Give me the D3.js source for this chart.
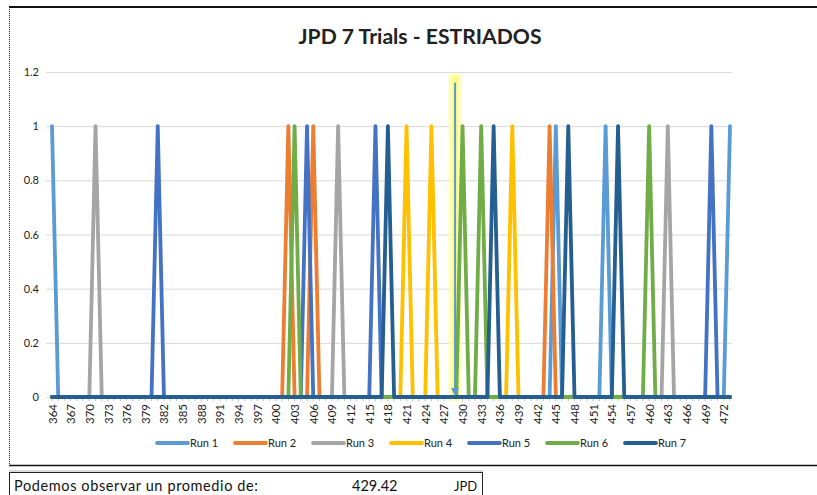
<!DOCTYPE html>
<html><head><meta charset="utf-8">
<script src="https://cdn.jsdelivr.net/npm/d3@7"></script>
<style>
html,body{margin:0;padding:0;background:#fff;}
svg{display:block;font-family:Lato,"Open Sans",sans-serif;}
</style></head>
<body><svg id="c" width="817" height="495"></svg>
<script>
// ---- data ----
const firstCategory = 364, lastCategory = 473;
const categories = d3.range(firstCategory, lastCategory + 1);
const seriesNames = ["Run 1","Run 2","Run 3","Run 4","Run 5","Run 6","Run 7"];
const seriesColors = ["#5B9BD5","#ED7D31","#A5A5A5","#FFC000","#4472C4","#70AD47","#255E91"];
const run1Peaks = [364, 445, 453, 473];
const run2Peaks = [402, 406, 444];
const run3Peaks = [371, 410, 463];
const run4Peaks = [421, 425, 438];
const run5Peaks = [381, 405, 416, 470];
const run6Peaks = [403, 430, 433, 460];
const run7Peaks = [418, 435, 447, 455];
const yTicks = [0, 0.2, 0.4, 0.6, 0.8, 1, 1.2];
const xLabelStep = 3;
const arrowAt = 428.8;      // marked position
const arrowTop = 1.16;
const titleText = "JPD 7 Trials - ESTRIADOS";
const noteLabel = "Podemos observar un promedio de:";
const noteValue = "429.42";
const noteUnit = "JPD";

const peaks = [run1Peaks, run2Peaks, run3Peaks, run4Peaks, run5Peaks, run6Peaks, run7Peaks];
const series = peaks.map((p, i) => ({
  name: seriesNames[i], color: seriesColors[i],
  values: categories.map(c => ({x: c, y: p.includes(c) ? 1 : 0}))
}));

// ---- layout ----
const svg = d3.select("#c");
const x = d3.scaleLinear().domain([firstCategory, lastCategory]).range([52, 730]);
const y = d3.scaleLinear().domain([0, 1.2]).range([397, 72]);

// frame
svg.append("line").attr("x1",9).attr("x2",817).attr("y1",7).attr("y2",7).attr("stroke","#111").attr("stroke-width",2);
svg.append("line").attr("x1",9.5).attr("x2",9.5).attr("y1",7).attr("y2",466).attr("stroke","#222").attr("stroke-width",1).attr("stroke-dasharray","1,1");
svg.append("line").attr("x1",9).attr("x2",817).attr("y1",465.5).attr("y2",465.5).attr("stroke","#111").attr("stroke-width",1.5);

// title
svg.append("text").attr("x",420).attr("y",44).attr("text-anchor","middle")
  .attr("font-size",21).attr("font-weight","bold").attr("fill","#222")
  .attr("textLength",243).attr("lengthAdjust","spacingAndGlyphs").text(titleText);

// gridlines
svg.append("g").selectAll("line").data(yTicks).join("line")
  .attr("x1",46).attr("x2",732).attr("y1",d=>y(d)+0.5).attr("y2",d=>y(d)+0.5)
  .attr("stroke","#D9D9D9").attr("stroke-width",1);

// y labels
svg.append("g").selectAll("text").data(yTicks).join("text")
  .attr("x",39).attr("y",d=>y(d)+4).attr("text-anchor","end")
  .attr("font-size",11).attr("fill","#222").text(d=>d3.format("")(+d.toFixed(1)));

// minor category ticks
svg.append("g").selectAll("line").data(categories).join("line")
  .attr("x1",d=>x(d)).attr("x2",d=>x(d)).attr("y1",398).attr("y2",401)
  .attr("stroke","#BFBFBF").attr("stroke-width",1);

// x axis labels
const xAxis = d3.axisBottom(x)
  .tickValues(categories.filter((c,i)=>i % xLabelStep === 0))
  .tickFormat(d3.format("d")).tickSize(0);
const gx = svg.append("g").attr("transform","translate(0,401)").call(xAxis);
gx.select(".domain").remove();
gx.selectAll("text").attr("transform","rotate(-90)").attr("text-anchor","end")
  .attr("x",-3).attr("y",0).attr("dy","0.35em")
  .attr("font-size",11.5).attr("font-family","Lato,sans-serif").attr("fill","#1a1a1a");

// highlight + arrow annotation
svg.append("line").attr("x1",x(arrowAt)).attr("x2",x(arrowAt)).attr("y1",y(1.2)+2).attr("y2",y(0)+4)
  .attr("stroke","#FFFF99").attr("stroke-width",13).attr("opacity",0.7);
svg.append("line").attr("x1",x(arrowAt)).attr("x2",x(arrowAt)).attr("y1",y(1.2)+4).attr("y2",y(0)+2)
  .attr("stroke","#FFF36B").attr("stroke-width",6).attr("opacity",0.55);

// series lines
const line = d3.line().x(d=>x(d.x)).y(d=>y(d.y));
svg.append("g").selectAll("path").data(series).join("path")
  .attr("d",d=>line(d.values)).attr("fill","none").attr("stroke",d=>d.color)
  .attr("stroke-width",3.8).attr("stroke-linejoin","round").attr("stroke-linecap","round");

// arrow
const ax = x(arrowAt);
svg.append("line").attr("x1",ax).attr("x2",ax).attr("y1",y(arrowTop)).attr("y2",y(0)-6)
  .attr("stroke","#5B9BD5").attr("stroke-width",2);
svg.append("path").attr("d",`M${ax-4},${y(0)-9}L${ax+4},${y(0)-9}L${ax},${y(0)-1}Z`).attr("fill","#5B9BD5");

// legend
const lg = svg.append("g").selectAll("g").data(series).join("g")
  .attr("transform",(d,i)=>`translate(${157+i*78},443)`);
lg.append("line").attr("x1",0).attr("x2",31).attr("stroke",d=>d.color).attr("stroke-width",3.8).attr("stroke-linecap","round");
lg.append("text").attr("x",33).attr("y",4).attr("font-size",11).attr("fill","#222").text(d=>d.name);

// note box
svg.append("rect").attr("x",9.5).attr("y",472.5).attr("width",473).attr("height",30)
  .attr("fill","none").attr("stroke","#222").attr("stroke-width",1);
svg.append("line").attr("x1",9).attr("x2",483).attr("y1",471).attr("y2",471).attr("stroke","#888").attr("stroke-width",0.6);
svg.append("text").attr("x",14).attr("y",491).attr("font-size",14.5).attr("fill","#111")
  .attr("textLength",244).attr("lengthAdjust","spacing").text(noteLabel);
svg.append("text").attr("x",352).attr("y",491).attr("font-size",14.5).attr("fill","#111").text(noteValue);
svg.append("text").attr("x",454).attr("y",491).attr("font-size",13).attr("fill","#111").text(noteUnit);
</script></body></html>
